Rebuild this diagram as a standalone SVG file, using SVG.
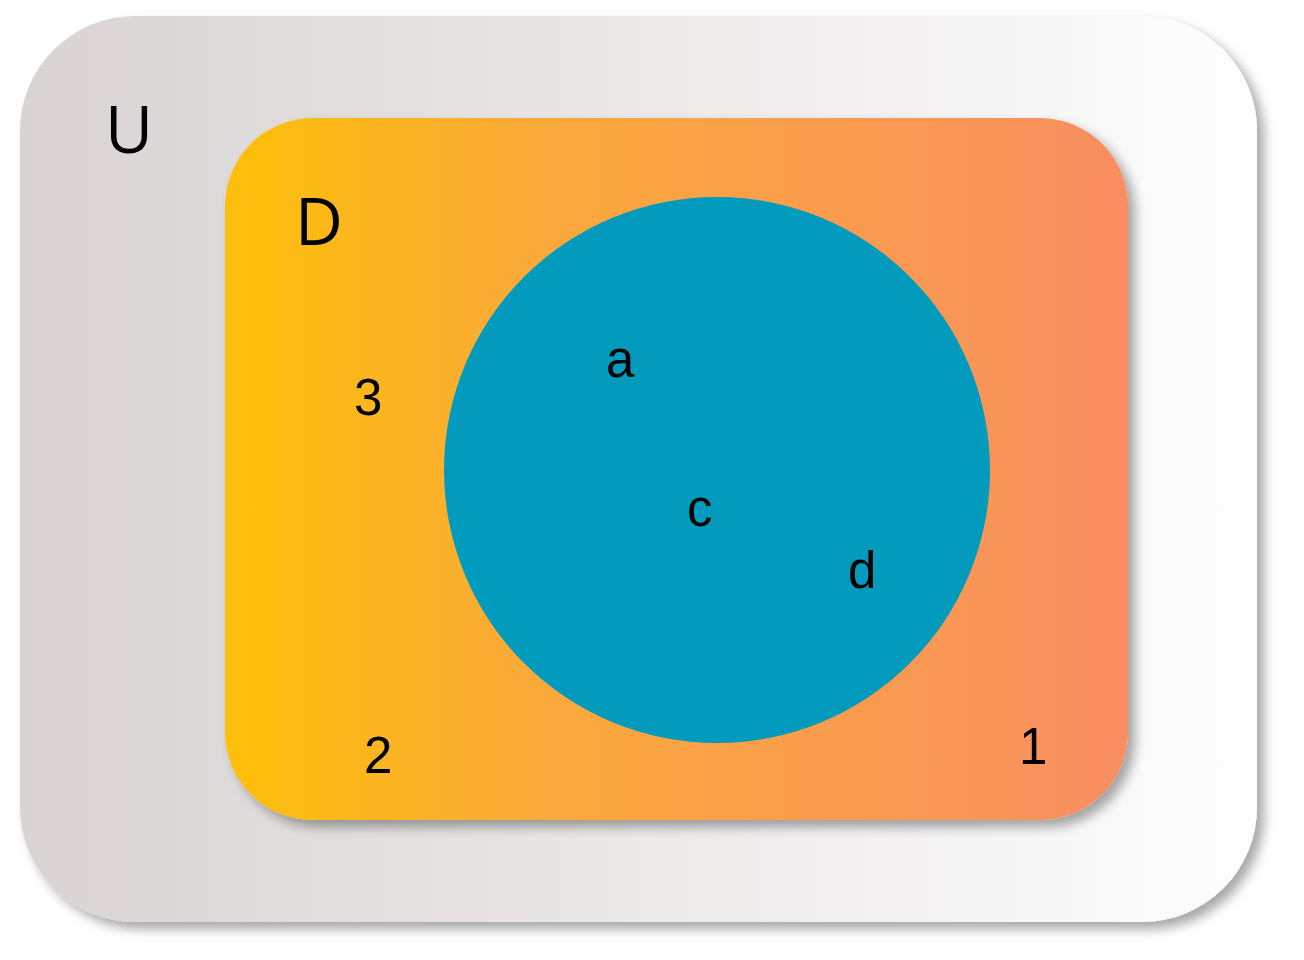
<svg xmlns="http://www.w3.org/2000/svg" width="1304" height="960" viewBox="0 0 1304 960">
  <defs>
    <linearGradient id="gU" x1="0" y1="0" x2="1" y2="0">
      <stop offset="0" stop-color="#d9d3d3"/>
      <stop offset="1" stop-color="#fefefe"/>
    </linearGradient>
    <linearGradient id="gD" x1="0" y1="0" x2="1" y2="0">
      <stop offset="0" stop-color="#fdc009"/>
      <stop offset="0.35" stop-color="#faa93a"/>
      <stop offset="1" stop-color="#f98e62"/>
    </linearGradient>
    <filter id="sh" x="-10%" y="-10%" width="125%" height="125%">
      <feGaussianBlur in="SourceAlpha" stdDeviation="6"/>
      <feOffset dx="7" dy="7" result="b"/>
      <feComponentTransfer><feFuncA type="linear" slope="0.35"/></feComponentTransfer>
      <feMerge><feMergeNode/><feMergeNode in="SourceGraphic"/></feMerge>
    </filter>
  </defs>
  <style>
    .lbl { font-family: "Liberation Sans", Arial, sans-serif; font-size: 51px; fill: #000; }
    .set { font-family: "Open Sans", "Noto Sans", sans-serif; font-size: 66px; fill: #000; }
  </style>
  <rect width="1304" height="960" fill="#ffffff"/>
  <g id="U">
    <rect x="20" y="16" width="1237" height="906" rx="115" ry="115" fill="url(#gU)" filter="url(#sh)"/>
    <text class="set" x="105" y="153">U</text>
  </g>
  <g id="D">
    <rect x="225" y="118" width="903" height="702" rx="88" ry="88" fill="url(#gD)" filter="url(#sh)"/>
    <text class="set" x="295" y="245">D</text>
    <text class="lbl" x="354" y="415">3</text>
    <text class="lbl" x="364" y="773">2</text>
    <text class="lbl" x="1019" y="764">1</text>
  </g>
  <g id="C">
    <circle cx="717" cy="470" r="273" fill="#029bbd"/>
    <text class="lbl" x="606" y="377">a</text>
    <text class="lbl" x="687" y="526">c</text>
    <text class="lbl" x="848" y="588">d</text>
  </g>
  <g id="connectors"/>
</svg>
